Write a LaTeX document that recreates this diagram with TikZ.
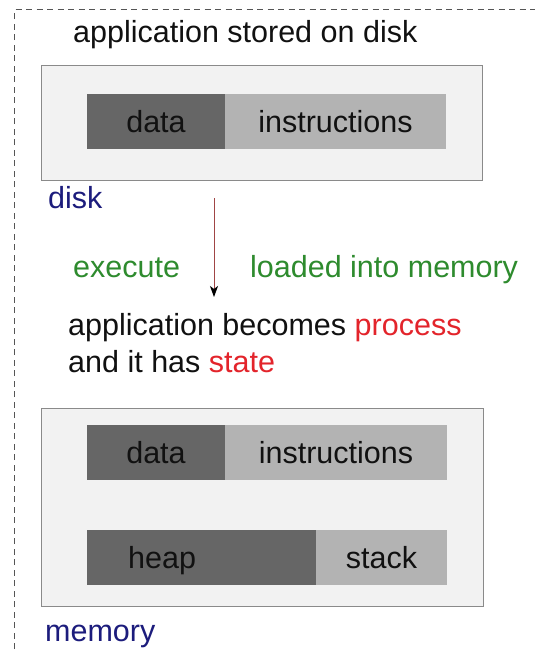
\documentclass[tikz,border=0pt]{standalone}
\usepackage{fontspec}
\setmainfont{Liberation Sans}
\usetikzlibrary{arrows.meta}
\definecolor{boxfill}{HTML}{F2F2F2}
\definecolor{boxline}{HTML}{8A8A8A}
\definecolor{darkbar}{HTML}{666666}
\definecolor{lightbar}{HTML}{B3B3B3}
\definecolor{navytext}{HTML}{1C1C7C}
\definecolor{greentext}{HTML}{2E8B2E}
\definecolor{redtext}{HTML}{E3242B}
\definecolor{arrowred}{HTML}{A04545}
\definecolor{textblack}{HTML}{111111}
\definecolor{dashgray}{HTML}{555555}
\begin{document}
\begin{tikzpicture}[x=1pt,y=-1pt,
  bigfont/.style={font=\fontsize{30.5}{36}\selectfont},
  txt/.style={inner sep=0pt, anchor=base west, bigfont, text=textblack},
  outerbox/.style={draw=boxline, fill=boxfill, line width=0.9pt, inner sep=0pt},
  darkseg/.style={fill=darkbar, draw=none, inner sep=0pt, minimum height=55pt, bigfont, text=textblack},
  lightseg/.style={fill=lightbar, draw=none, inner sep=0pt, minimum height=55pt, bigfont, text=textblack},
  frame/.style={draw=dashgray, line width=1.1pt, dash pattern=on 6pt off 4.5pt}
]
\useasboundingbox (0,0) rectangle (535,653);
\fill[white] (0,0) rectangle (535,653);
% dashed frame (extends beyond the picture)
\coordinate (fbl) at (14.7,670);
\coordinate (ftl) at (14.7,9.3);
\coordinate (ftr) at (560,9.3);
\draw[frame] (fbl) -- (ftl) -- (ftr);

% title
\node[txt] (title) at (73,42) {application stored on disk};

% disk
\node[outerbox, minimum width=441pt, minimum height=115pt] (diskbox) at (261.5,122.5) {};
\node[darkseg, minimum width=138pt] (data1) at (156,121.5) {data};
\node[lightseg, minimum width=221pt] (instr1) at (335.5,121.5) {instructions};
\node[txt, text=navytext] (disklbl) at (48,208) {disk};

% arrow
\coordinate (arrS) at (214,198);
\coordinate (arrE) at (214,297);
\draw[draw=arrowred, line width=0.8pt, -{Stealth[color=black, length=11pt, width=8pt, inset=3pt]}] (arrS) -- (arrE);
\node[txt, text=greentext] (exec) at (73,277) {execute};
\node[txt, text=greentext] (loaded) at (250,277) {loaded into memory};

% process text
\node[txt] (proc1) at (68,335) {application becomes \textcolor{redtext}{process}};
\node[txt] (proc2) at (68,372) {and it has \textcolor{redtext}{state}};

% memory
\node[outerbox, minimum width=442pt, minimum height=198pt] (membox) at (262,507) {};
\node[darkseg, minimum width=138pt] (data2) at (156,452.5) {data};
\node[lightseg, minimum width=222pt] (instr2) at (336,452.5) {instructions};
\node[darkseg, minimum width=229pt] (heap) at (201.5,557.5) {};
\node[txt] (heaptxt) at (128,568.5) {heap};
\node[lightseg, minimum width=131pt] (stack) at (381.5,557.5) {stack};
\node[txt, text=navytext] (memlbl) at (45,641) {memory};
\end{tikzpicture}
\end{document}
